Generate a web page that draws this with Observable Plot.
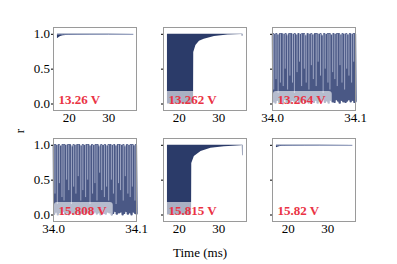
<!DOCTYPE html>
<html><head><meta charset="utf-8">
<script src="https://cdn.jsdelivr.net/npm/d3@7"></script>
<script src="https://cdn.jsdelivr.net/npm/@observablehq/plot@0.6"></script>
<style>
body{margin:0;background:#fff;}
#wrap{position:relative;width:397px;height:264px;overflow:hidden;font-family:"Liberation Serif","DejaVu Serif","Times New Roman",serif;}
#wrap svg, #wrap svg text{font-family:"Liberation Serif","DejaVu Serif","Times New Roman",serif !important;}
.panel{position:absolute;}
.lab{position:absolute;font-size:13px;color:#000;white-space:nowrap;}
</style></head>
<body><div id="wrap"></div>
<script>
// ---- data ----
const labels = ["13.26 V", "13.262 V", "13.264 V", "15.808 V", "15.815 V", "15.82 V"];
const yTicks = [0, 0.5, 1];
const slowTicks = [20, 30];
const fastTicks = [34.0, 34.1];
const slowDomain = [16, 37];
const fastDomain = [34.0, 34.1];

// envelopes (time ms, lower bound of r); upper bound is 1
const p1T = [17, 17.4, 17.8, 18.5, 20, 22, 25, 30, 36.1];
const p1Low = [0.935, 0.955, 0.97, 0.978, 0.985, 0.99, 0.995, 0.998, 0.999];
const p2T = [17, 23.6, 23.65, 24.2, 25.1, 26.3, 28.9, 32.3, 35.9, 35.95, 36.05, 36.1];
const p2Low = [0, 0, 0.74, 0.84, 0.9, 0.93, 0.97, 0.99, 0.997, 0.97, 0.97, 0.997];
const p5T = [17, 23.1, 23.15, 23.8, 25.5, 28, 31.4, 35.7, 35.95, 36.0, 36.1];
const p5Low = [0, 0, 0.74, 0.84, 0.91, 0.957, 0.98, 0.995, 0.996, 0.85, 0.85];
const p6T = [17, 17.5, 18, 19, 21, 24, 28, 36.1];
const p6Low = [0.965, 0.975, 0.982, 0.987, 0.991, 0.995, 0.998, 0.999];

// fast oscillations: trough times (microseconds after 34.0 ms) and trough values
const p3TroughUs = [1.1, 3.6, 5.5, 8.1, 10.0, 12.4, 14.5, 17.1, 18.8, 21.5, 23.3, 25.9, 27.7, 30.3, 32.2, 34.8, 36.6, 39.3, 41.0, 43.7, 45.4, 48.1, 49.9, 52.5, 54.3, 56.9, 58.8, 61.4, 63.1, 65.9, 67.6, 70.3, 72.0, 74.7, 76.5, 79.1, 80.9, 83.6, 85.3, 88.0, 89.8, 92.4, 94.2, 96.9, 98.7];
const p3TroughR = [0.04, 0.02, 0.06, 0.03, 0.05, 0.01, 0.07, 0.03, 0.04, 0.02, 0.06, 0.05, 0.03, 0.08, 0.02, 0.04, 0.06, 0.03, 0.05, 0.02, 0.07, 0.04, 0.03, 0.06, 0.02, 0.05, 0.04, 0.07, 0.03, 0.05, 0.02, 0.06, 0.04, 0.03, 0.07, 0.05, 0.02, 0.06, 0.04, 0.03, 0.05, 0.07, 0.04, 0.06, 0.03];
const p3PeakR = [1.0, 0.99, 1.0, 0.98, 1.0, 1.0, 0.99, 1.0, 0.97, 1.0, 1.0, 0.99, 1.0, 0.98, 1.0, 0.99, 1.0, 1.0, 0.97, 1.0, 0.99, 1.0, 0.98, 1.0, 1.0, 0.99, 1.0, 0.97, 1.0, 0.99, 1.0, 1.0, 0.98, 1.0, 0.99, 1.0, 1.0, 0.98, 1.0, 0.99, 1.0, 0.98, 1.0, 0.99, 1.0, 1.0];
const p4TroughUs = [0.9, 3.3, 5.2, 7.8, 9.6, 12.3, 14.0, 16.7, 18.5, 21.1, 22.9, 25.6, 27.4, 29.9, 31.8, 34.5, 36.2, 38.9, 40.7, 43.3, 45.1, 47.8, 49.6, 52.2, 54.0, 56.7, 58.4, 61.1, 62.9, 65.5, 67.3, 70.0, 71.8, 74.4, 76.2, 78.9, 80.6, 83.3, 85.1, 87.7, 89.5, 92.2, 94.0, 96.6, 98.5];
const p4TroughR = [0.02, 0.05, 0.01, 0.04, 0.03, 0.06, 0.02, 0.04, 0.01, 0.05, 0.03, 0.02, 0.06, 0.04, 0.01, 0.03, 0.05, 0.02, 0.04, 0.06, 0.01, 0.03, 0.05, 0.02, 0.04, 0.01, 0.06, 0.03, 0.02, 0.05, 0.04, 0.01, 0.03, 0.06, 0.02, 0.04, 0.05, 0.01, 0.03, 0.06, 0.02, 0.04, 0.01, 0.05, 0.03];
const p4PeakR = [1.0, 1.0, 0.99, 1.0, 0.98, 1.0, 1.0, 0.99, 1.0, 1.0, 0.97, 1.0, 0.99, 1.0, 1.0, 0.98, 1.0, 0.99, 1.0, 1.0, 0.98, 1.0, 0.99, 1.0, 1.0, 0.97, 1.0, 0.99, 1.0, 0.98, 1.0, 1.0, 0.99, 1.0, 0.98, 1.0, 1.0, 0.99, 1.0, 0.97, 1.0, 0.99, 1.0, 1.0, 0.98, 1.0];

// slow-dwell spikes seen as light streaks: time (us after 34.0 ms) and lowest r reached
const p3StreakUs = [1.5, 4.2, 6.8, 9.5, 12.9, 15.3, 18.2, 21.0, 24.1, 26.4, 29.6, 32.5, 35.1, 38.3, 40.6, 43.9, 46.8, 49.2, 52.6, 55.0, 57.9, 61.0, 63.5, 66.8, 69.2, 72.5, 75.1, 78.0, 81.3, 83.7, 86.9, 89.4, 92.1, 95.3, 97.8];
const p3StreakR = [0.2, 0.35, 0.15, 0.3, 0.25, 0.5, 0.2, 0.4, 0.3, 0.15, 0.45, 0.6, 0.25, 0.5, 0.3, 0.2, 0.55, 0.35, 0.25, 0.6, 0.4, 0.15, 0.5, 0.3, 0.2, 0.45, 0.35, 0.25, 0.55, 0.3, 0.2, 0.5, 0.4, 0.3, 0.6];
const p4StreakUs = [1.8, 4.6, 7.1, 10.2, 12.7, 15.8, 18.4, 21.6, 24.3, 27.0, 29.8, 32.9, 35.4, 38.7, 41.2, 44.0, 47.1, 49.9, 52.4, 55.6, 58.1, 61.3, 64.0, 66.5, 69.7, 72.2, 75.4, 78.3, 80.8, 84.0, 86.5, 89.6, 92.4, 95.0, 98.1];
const p4StreakR = [0.3, 0.15, 0.45, 0.25, 0.2, 0.5, 0.35, 0.15, 0.4, 0.3, 0.55, 0.2, 0.35, 0.25, 0.5, 0.15, 0.3, 0.45, 0.2, 0.6, 0.35, 0.25, 0.4, 0.2, 0.5, 0.3, 0.15, 0.45, 0.35, 0.2, 0.55, 0.3, 0.25, 0.4, 0.2];

// ---- build ----
const NAVY = "#2b3b69";
const SLATE = "#4a5885";
const STREAK = "#b9c0d8";
const RED = "#ea3344";
const SERIF = "'Liberation Serif','DejaVu Serif','Times New Roman',serif";
const FW = 83, FH = 83;
const colLeft = [53, 163, 272];
const rowTop = [27, 138];
const ML = 32, MR = 22, MT = 4, MB = 22;

function envData(T, low) { return T.map((t, i) => ({t, lo: low[i], hi: 1})); }
function oscData(us, tr, pk) {
  const out = [];
  for (let i = 0; i < us.length; i++) {
    const prev = i === 0 ? 0 : us[i - 1];
    out.push({t: 34 + ((prev + us[i]) / 2) / 1000, r: pk[i]});
    out.push({t: 34 + us[i] / 1000, r: tr[i]});
  }
  const last = us[us.length - 1];
  out.push({t: 34 + ((last + 100) / 2) / 1000, r: pk[us.length]});
  out.push({t: 34.1, r: tr[0]});
  return out;
}
function streakData(us, r) { return us.map((u, i) => ({t: 34 + u / 1000, lo: r[i], hi: 1})); }

const panels = [
  {kind: "env", data: envData(p1T, p1Low), thin: true},
  {kind: "env", data: envData(p2T, p2Low)},
  {kind: "osc", data: oscData(p3TroughUs, p3TroughR, p3PeakR), streaks: streakData(p3StreakUs, p3StreakR)},
  {kind: "osc", data: oscData(p4TroughUs, p4TroughR, p4PeakR), streaks: streakData(p4StreakUs, p4StreakR)},
  {kind: "env", data: envData(p5T, p5Low)},
  {kind: "env", data: envData(p6T, p6Low), thin: true},
];

const wrap = document.getElementById("wrap");
panels.forEach((p, i) => {
  const row = Math.floor(i / 3), col = i % 3;
  const fast = p.kind === "osc";
  const domain = fast ? fastDomain : slowDomain;
  const marks = [];
  if (fast) {
    marks.push(Plot.lineY(p.data, {x: "t", y: "r", stroke: SLATE, strokeWidth: 2.4}));
    marks.push(Plot.ruleX(p.streaks, {x: "t", y1: "lo", y2: "hi", stroke: STREAK, strokeWidth: 0.9, strokeOpacity: 0.85}));
  } else {
    marks.push(Plot.areaY(p.data, {x: "t", y1: "lo", y2: "hi", fill: NAVY}));
    if (p.thin) marks.push(Plot.lineY(p.data, {x: "t", y: "hi", stroke: "#7d8ab0", strokeWidth: 1}));
  }
  marks.push(Plot.frame({stroke: "#9a9a9a", strokeWidth: 1}));
  marks.push(Plot.axisY({ticks: yTicks, tickSize: 2, tickPadding: 1.5, fontFamily: SERIF,
    tickFormat: col === 0 ? d3.format(".1f") : () => ""}));
  marks.push(Plot.axisX({ticks: fast ? fastTicks : slowTicks, tickSize: 0, tickPadding: 2.5, fontFamily: SERIF,
    tickFormat: fast ? d3.format(".1f") : d3.format("d")}));
  marks.push(Plot.text([labels[i]], {x: () => domain[0], y: () => 0, text: d => d,
    textAnchor: "start", dx: 5, dy: -4.6, fill: RED, fontWeight: "bold", fontSize: 13, fontFamily: SERIF,
    className: "vlabel"}));
  const svg = Plot.plot({
    width: ML + FW + MR, height: MT + FH + MB,
    marginLeft: ML, marginRight: MR, marginTop: MT, marginBottom: MB,
    x: {domain, label: null},
    y: {domain: [0, 1], label: null, insetTop: 6.8, insetBottom: 6.5},
    style: {fontFamily: SERIF, fontSize: "13px", background: "transparent", overflow: "visible", color: "#000"},
    marks
  });
  const div = document.createElement("div");
  div.className = "panel";
  div.style.left = (colLeft[col] - ML) + "px";
  div.style.top = (rowTop[row] - MT) + "px";
  div.appendChild(svg);
  wrap.appendChild(div);
  // label background box
  svg.querySelectorAll("g.vlabel text").forEach(t => {
    const bb = t.getBBox();
    const r = document.createElementNS("http://www.w3.org/2000/svg", "rect");
    r.setAttribute("x", bb.x - 4.5);
    r.setAttribute("y", bb.y - 0.5);
    r.setAttribute("width", bb.width + 10);
    r.setAttribute("height", bb.height - 1);
    r.setAttribute("rx", 3);
    r.setAttribute("fill", "#ffffff");
    r.setAttribute("fill-opacity", 0.6);
    r.setAttribute("transform", t.getAttribute("transform") || "");
    t.parentNode.insertBefore(r, t);
  });
});

const yl = document.createElement("div");
yl.className = "lab";
yl.textContent = "r";
yl.style.left = "18px"; yl.style.top = "123px";
yl.style.transform = "rotate(-90deg)";
wrap.appendChild(yl);
const xl = document.createElement("div");
xl.className = "lab";
xl.textContent = "Time (ms)";
xl.style.left = "200px"; xl.style.top = "245px";
xl.style.transform = "translateX(-50%)";
wrap.appendChild(xl);
</script></body></html>
